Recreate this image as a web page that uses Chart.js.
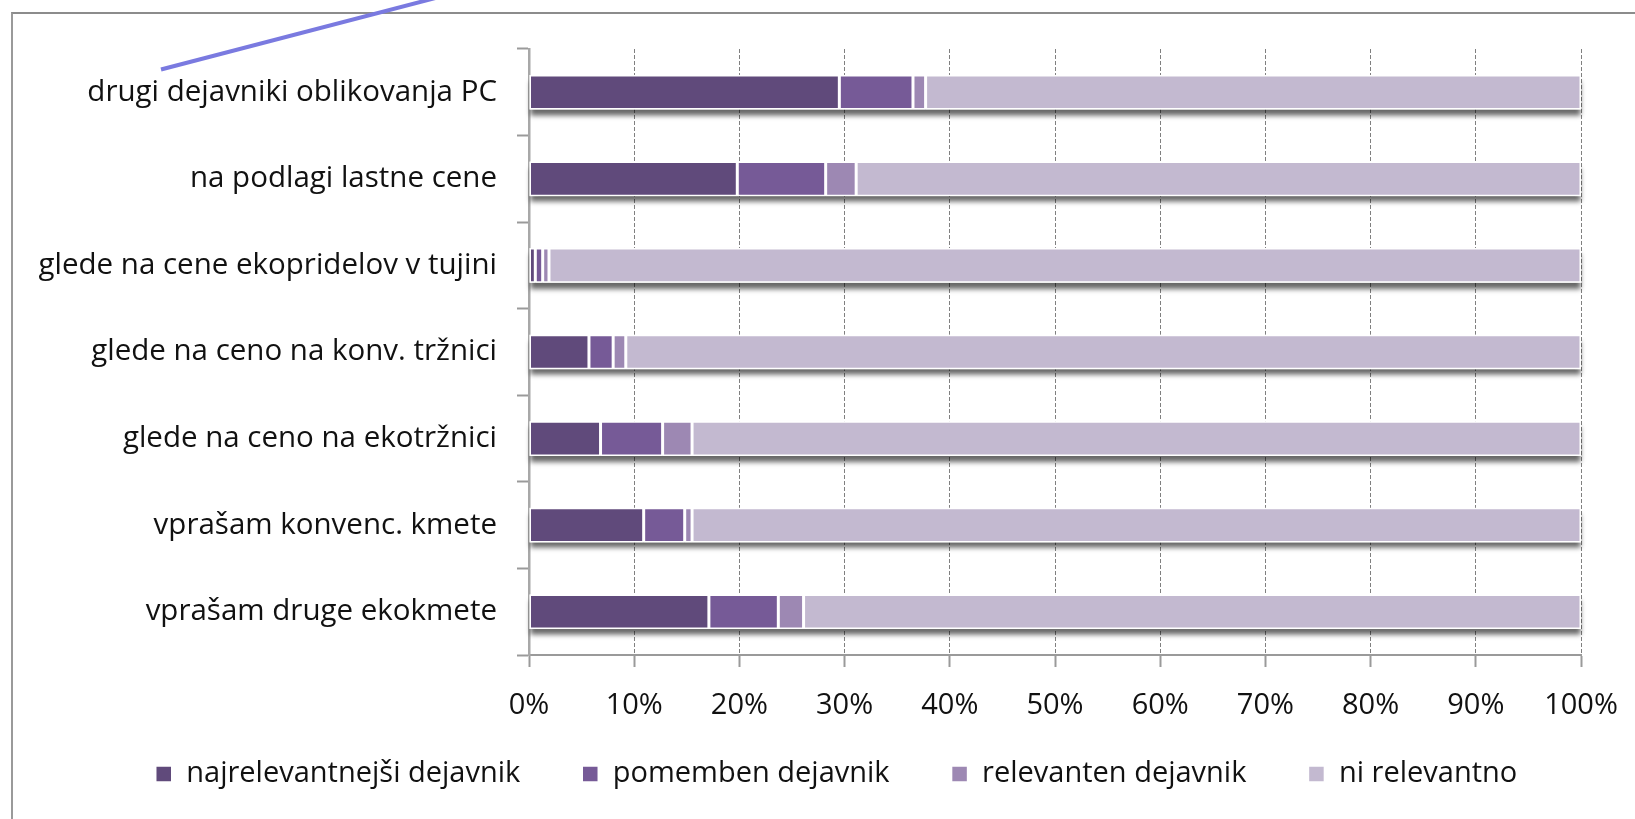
<!DOCTYPE html>
<html>
<head>
<meta charset="utf-8">
<script src="https://cdn.jsdelivr.net/npm/chart.js@4.4.1/dist/chart.umd.min.js"></script>
<style>
    html, body {
        margin: 0;
        padding: 0;
        width: 1635px;
        height: 819px;
        overflow: hidden;
        background: #ffffff;
    }

    #frame {
        position: absolute;
        left: 11px;
        top: 12px;
        width: 1700px;
        height: 900px;
        border-left: 2px solid #9a9a9a;
        border-top: 2px solid #8c8c8c;
    }

    #chartBox {
        position: absolute;
        left: 0;
        top: 0;
        width: 1682px;
        height: 819px;
    }

    #pointer {
        position: absolute;
        left: 0;
        top: 0;
    }
</style>
</head>
<body>

<div id="frame"></div>

<div id="chartBox">
    <canvas id="factorChart"></canvas>
</div>

<svg id="pointer" width="1635" height="819">
    <line x1="161" y1="69.5" x2="447" y2="-5" stroke="#7a7ae0" stroke-width="4" />
</svg>

<script>
// =============================
// Data
// =============================

const categories = [
    "drugi dejavniki oblikovanja PC",
    "na podlagi lastne cene",
    "glede na cene ekopridelov v tujini",
    "glede na ceno na konv. tržnici",
    "glede na ceno na ekotržnici",
    "vprašam konvenc. kmete",
    "vprašam druge ekokmete"
];

const seriesNames = [
    "najrelevantnejši dejavnik",
    "pomemben dejavnik",
    "relevanten dejavnik",
    "ni relevantno"
];

const najrelevantnejsi = [29.5, 19.8, 0.6, 5.7, 6.8, 10.9, 17.1];
const pomemben = [7.0, 8.4, 0.7, 2.3, 5.9, 3.9, 6.6];
const relevanten = [1.2, 2.9, 0.6, 1.2, 2.8, 0.7, 2.4];
const niRelevantno = [62.3, 68.9, 98.1, 90.8, 84.5, 84.5, 73.9];

const xTicks = [0, 10, 20, 30, 40, 50, 60, 70, 80, 90, 100];

const colors = ["#604a7b", "#765a97", "#9d88b3", "#c3b9d0"];


// =============================
// Shadow under each bar
// =============================

const barShadow = {

    id: "barShadow",

    beforeDatasetsDraw(chart) {

        const ctx = chart.ctx;
        const first = chart.getDatasetMeta(0).data;
        const last = chart.getDatasetMeta(chart.data.datasets.length - 1).data;

        ctx.save();
        ctx.shadowColor = "rgba(0,0,0,0.6)";
        ctx.shadowBlur = 5;
        ctx.shadowOffsetY = 6;
        ctx.fillStyle = "#ffffff";

        first.forEach((bar, i) => {
            const left = bar.base;
            const right = last[i].x;
            const h = bar.height;
            ctx.fillRect(left, bar.y - h / 2, right - left, h);
        });

        ctx.restore();

    }

};


// =============================
// Legend placement
// (legend sits under the tick labels, centred on the whole frame)
// =============================

const legendShift = {

    id: "legendShift",

    afterLayout(chart) {

        const legend = chart.legend;

        legend.top -= 20.5;
        legend.bottom -= 20.5;
        legend.left += 46;
        legend.right += 46;

    }

};


// =============================
// Chart
// =============================

const font = { family: "'Open Sans'", size: 29 };

const datasets = [najrelevantnejsi, pomemben, relevanten, niRelevantno].map((values, i) => ({

    label: seriesNames[i],
    data: values,
    backgroundColor: colors[i],
    borderColor: "#ffffff",
    borderWidth: 1.5,
    borderSkipped: false,
    barPercentage: 0.40,
    categoryPercentage: 1

}));

new Chart(document.getElementById("factorChart"), {

    type: "bar",

    data: {
        labels: categories,
        datasets: datasets
    },

    plugins: [barShadow, legendShift],

    options: {

        indexAxis: "y",
        responsive: true,
        maintainAspectRatio: false,
        animation: false,

        layout: {
            padding: { left: 0, right: 101, top: 49, bottom: 0 }
        },

        plugins: {

            tooltip: { enabled: false },

            legend: {
                position: "bottom",
                labels: {
                    font: font,
                    color: "#111111",
                    boxWidth: 16,
                    boxHeight: 16,
                    padding: 62
                }
            }

        },

        scales: {

            x: {
                stacked: true,
                min: 0,
                max: 100,
                afterBuildTicks(scale) {
                    scale.ticks = xTicks.map(v => ({ value: v }));
                },
                afterFit(scale) {
                    scale.height = 63;
                },
                ticks: {
                    font: font,
                    color: "#111111",
                    padding: 21,
                    maxRotation: 0,
                    callback: v => v + "%"
                },
                grid: {
                    color: "#808080",
                    lineWidth: 1,
                    tickLength: 12,
                    tickColor: "#9a9a9a",
                    tickWidth: 2
                },
                border: {
                    color: "#9a9a9a",
                    width: 2,
                    dash: [4, 2]
                }
            },

            y: {
                stacked: true,
                afterFit(scale) {
                    scale.width = 529;
                },
                ticks: {
                    font: { family: "'Open Sans'", size: 29.5 },
                    color: "#111111",
                    padding: 20
                },
                grid: {
                    drawOnChartArea: false,
                    tickLength: 12,
                    tickColor: "#9a9a9a",
                    tickWidth: 2
                },
                border: {
                    color: "#a8a8a8",
                    width: 2.5
                }
            }

        }

    }

});
</script>
</body>
</html>
